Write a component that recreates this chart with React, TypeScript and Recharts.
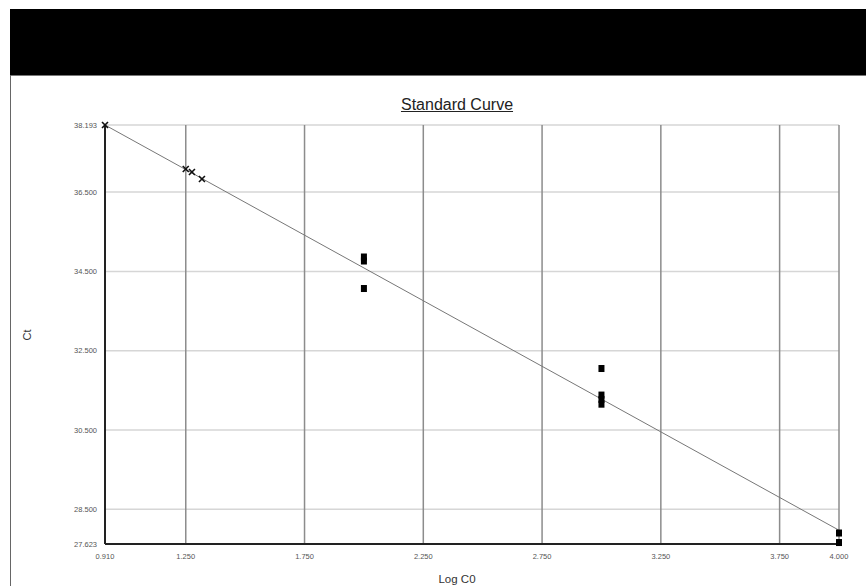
import { ScatterChart, Scatter, XAxis, YAxis, CartesianGrid, ReferenceLine } from "recharts";

// standards (x marks) and unknowns (filled squares)
const stdLogC0 = [0.91, 1.25, 1.276, 1.318];
const stdCt = [38.193, 37.083, 37.007, 36.831];
const sampleLogC0 = [2.0, 2.0, 2.0, 3.0, 3.0, 3.0, 3.0, 4.0, 4.0];
const sampleCt = [34.863, 34.762, 34.068, 32.05, 31.38, 31.27, 31.15, 27.9, 27.66];

// fitted line end points
const fitLogC0 = [0.91, 4.0];
const fitCt = [38.193, 27.97];

const xTicks = [0.91, 1.25, 1.75, 2.25, 2.75, 3.25, 3.75, 4.0];
const yTicks = [27.623, 28.5, 30.5, 32.5, 34.5, 36.5, 38.193];

const stdData = stdLogC0.map((x, i) => ({ x, y: stdCt[i] }));
const sampleData = sampleLogC0.map((x, i) => ({ x, y: sampleCt[i] }));

const Cross = (p: any) => {
    const { cx, cy } = p;
    const r = 3;
    return (
        <g stroke="#111" strokeWidth={1.6}>
            <line x1={cx - r} y1={cy - r} x2={cx + r} y2={cy + r} />
            <line x1={cx - r} y1={cy + r} x2={cx + r} y2={cy - r} />
        </g>
    );
};

const Square = (p: any) => {
    const { cx, cy } = p;
    return <rect x={cx - 3} y={cy - 3.5} width={6} height={7} fill="#000" />;
};

const tickStyle = { fontSize: 7.5, fill: "#555", fontFamily: "Arial, 'Liberation Sans', sans-serif" };

export default function App() {
    return (
        <div style={{ position: "absolute", left: 0, top: 0, width: 866, height: 586, background: "#fff", fontFamily: "Arial, 'Liberation Sans', sans-serif" }}>
            <div style={{ position: "absolute", left: 10, top: 9, width: 856, height: 66, background: "#000" }} />
            <div style={{ position: "absolute", left: 10, top: 75, width: 856, height: 1, background: "#777" }} />
            <div style={{ position: "absolute", left: 10, top: 75, width: 1, height: 511, background: "#666" }} />

            <ScatterChart
                width={866}
                height={586}
                margin={{ top: 125, right: 27, bottom: 22, left: 45 }}
                style={{ position: "absolute", left: 0, top: 0 }}
            >
                <CartesianGrid
                    horizontalValues={yTicks}
                    vertical={false}
                    stroke="#d6d6d6"
                    strokeWidth={1.5}
                />
                <CartesianGrid
                    verticalValues={xTicks}
                    horizontal={false}
                    stroke="#8c8c8c"
                    strokeWidth={1.5}
                />
                <XAxis
                    type="number"
                    dataKey="x"
                    domain={[0.91, 4.0]}
                    ticks={xTicks}
                    tickFormatter={(v: number) => v.toFixed(3)}
                    tick={tickStyle}
                    tickLine={false}
                    tickSize={0}
                    tickMargin={10}
                    height={20}
                    axisLine={{ stroke: "#222", strokeWidth: 2 }}
                />
                <YAxis
                    type="number"
                    dataKey="y"
                    domain={[27.623, 38.193]}
                    ticks={yTicks}
                    tickFormatter={(v: number) => v.toFixed(3)}
                    tick={tickStyle}
                    tickLine={false}
                    tickSize={0}
                    tickMargin={8}
                    width={60}
                    axisLine={{ stroke: "#222", strokeWidth: 2 }}
                />
                <ReferenceLine
                    segment={[
                        { x: fitLogC0[0], y: fitCt[0] },
                        { x: fitLogC0[1], y: fitCt[1] },
                    ]}
                    stroke="#777"
                    strokeWidth={1}
                />
                <Scatter data={stdData} shape={Cross} isAnimationActive={false} />
                <Scatter data={sampleData} shape={Square} isAnimationActive={false} />
            </ScatterChart>

            <div style={{ position: "absolute", left: 357, top: 95, width: 200, textAlign: "center", fontSize: 16, color: "#222", textDecoration: "underline", lineHeight: "20px" }}>
                Standard Curve
            </div>
            <div style={{ position: "absolute", left: 407, top: 573, width: 100, textAlign: "center", fontSize: 11.5, color: "#333", lineHeight: "12px" }}>
                Log C0
            </div>
            <div style={{ position: "absolute", left: 12, top: 328, width: 30, textAlign: "center", fontSize: 11, color: "#333", lineHeight: "14px", transform: "rotate(-90deg)" }}>
                Ct
            </div>
        </div>
    );
}
